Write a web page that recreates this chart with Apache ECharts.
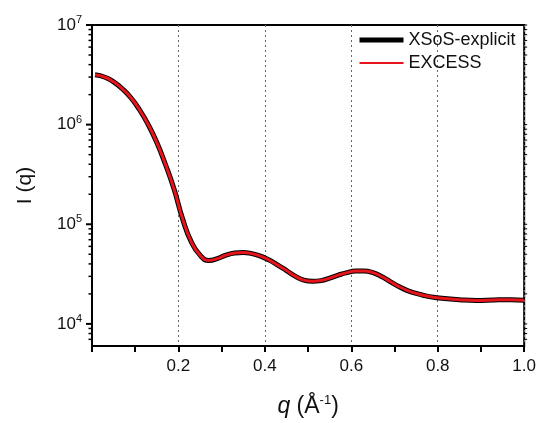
<!DOCTYPE html>
<html lang="en">

<head>
    <meta charset="UTF-8">
    <title>I(q) scattering profile</title>
    <script type="text/javascript" src="https://cdn.jsdelivr.net/npm/echarts@6/dist/echarts.min.js"></script>
</head>

<body style="margin:0;">
    <div id="main" style="width: 539px; height: 423px;"></div>

    <script type="text/javascript">
        // q values (1/A) and intensities
        var qValues = [0.007, 0.03, 0.05, 0.07, 0.09, 0.11, 0.13, 0.15, 0.17, 0.19, 0.21, 0.23, 0.25, 0.27,
            0.29, 0.31, 0.33, 0.35, 0.37, 0.39, 0.41, 0.43, 0.45, 0.47, 0.49, 0.51, 0.53, 0.55, 0.57, 0.59,
            0.61, 0.63, 0.65, 0.67, 0.69, 0.71, 0.73, 0.75, 0.77, 0.79, 0.81, 0.85, 0.89, 0.93, 0.97, 1.00];
        var intensity = [3.16e6, 2.99e6, 2.69e6, 2.29e6, 1.86e6, 1.41e6, 1.0e6, 6.61e5, 3.98e5, 2.24e5, 1.12e5,
            6.61e4, 4.90e4, 4.34e4, 4.52e4, 4.90e4, 5.15e4, 5.22e4, 5.07e4, 4.79e4, 4.37e4, 3.89e4, 3.43e4,
            3.02e4, 2.75e4, 2.68e4, 2.72e4, 2.88e4, 3.09e4, 3.27e4, 3.39e4, 3.40e4, 3.27e4, 2.99e4, 2.66e4,
            2.37e4, 2.16e4, 2.02e4, 1.92e4, 1.85e4, 1.81e4, 1.75e4, 1.72e4, 1.74e4, 1.75e4, 1.73e4];
        var seriesNames = ['XSoS-explicit', 'EXCESS'];
        var yMin = 6000, yMax = 1e7;
        var yMajorTicks = [1e4, 1e5, 1e6, 1e7];

        // minor log ticks 2..9 of each decade
        var yMinorTicks = [7000, 8000, 9000];
        [1e4, 1e5, 1e6].forEach(function(d) {
            for (var k = 2; k <= 9; k++) yMinorTicks.push(k * d);
        });

        var font = 'Liberation Sans, Arial, sans-serif';
        var points = qValues.map(function(q, i) { return [q, intensity[i]]; });

        // y tick marks: [q at axis, value, length (+ outward / - inward), width]
        var tickRows = [];
        yMajorTicks.forEach(function(v) { tickRows.push([0, v, 6, 2]); tickRows.push([1, v, -3, 1]); });
        yMinorTicks.forEach(function(v) { tickRows.push([0, v, 3.5, 1.5]); tickRows.push([1, v, -3, 1]); });

        var myChart = echarts.init(document.getElementById('main'));

        myChart.setOption({
            animation: false,
            backgroundColor: '#fff',
            grid: {
                left: 92, right: 12, top: 25, bottom: 69,
                show: true, borderColor: '#000', borderWidth: 2, backgroundColor: 'transparent'
            },
            legend: {
                orient: 'vertical',
                left: 352,
                top: 26,
                itemWidth: 44,
                itemHeight: 14,
                itemGap: 5,
                textStyle: { fontFamily: font, fontSize: 18, color: '#111' },
                data: [
                    { name: seriesNames[0], lineStyle: { width: 5, color: '#000' }, itemStyle: { opacity: 0 } },
                    { name: seriesNames[1], lineStyle: { width: 2, color: '#e8141b' }, itemStyle: { opacity: 0 } }
                ]
            },
            xAxis: {
                type: 'value',
                min: 0,
                max: 1,
                interval: 0.2,
                name: '{i|q} (Å{s|-1})',
                nameLocation: 'middle',
                nameGap: 48,
                nameTextStyle: {
                    fontFamily: font, fontSize: 23, color: '#111',
                    rich: {
                        i: { fontFamily: font, fontSize: 23, fontStyle: 'italic', color: '#111' },
                        s: { fontFamily: font, fontSize: 13, verticalAlign: 'top', color: '#111', padding: [0, 0, 12, 0] }
                    }
                },
                axisLine: { show: true, onZero: false, lineStyle: { color: '#000', width: 2 } },
                axisTick: { show: true, inside: false, length: 6, lineStyle: { color: '#000', width: 2 } },
                minorTick: { show: true, splitNumber: 2, length: 6, lineStyle: { color: '#000', width: 2 } },
                axisLabel: {
                    showMinLabel: false,
                    margin: 12,
                    fontFamily: font, fontSize: 17, color: '#111',
                    formatter: function(v) { return v.toFixed(1); }
                },
                splitLine: { show: true, lineStyle: { type: [2, 3], color: '#666', width: 1 } }
            },
            yAxis: {
                type: 'log',
                min: yMin,
                max: yMax,
                name: 'I (q)',
                nameLocation: 'middle',
                nameGap: 56,
                nameTextStyle: { fontFamily: font, fontSize: 21, color: '#111' },
                axisLine: { show: true, onZero: false, lineStyle: { color: '#000', width: 2 } },
                axisTick: { show: false },
                axisLabel: {
                    margin: 10,
                    formatter: function(v) {
                        var e = Math.log10(v);
                        if (Math.abs(e - Math.round(e)) > 1e-6) return '';
                        return '{b|10}{s|' + Math.round(e) + '}';
                    },
                    rich: {
                        b: { fontFamily: font, fontSize: 17, color: '#111' },
                        s: { fontFamily: font, fontSize: 11, color: '#111', verticalAlign: 'top', padding: [0, 0, 10, 0] }
                    }
                },
                splitLine: { show: false }
            },
            series: [{
                name: seriesNames[0],
                type: 'line',
                smooth: true,
                symbol: 'none',
                data: points,
                lineStyle: { color: '#000', width: 5 },
                itemStyle: { color: '#000' },
                z: 3
            }, {
                name: seriesNames[1],
                type: 'line',
                smooth: true,
                symbol: 'none',
                data: points,
                lineStyle: { color: '#e8141b', width: 3 },
                itemStyle: { color: '#e8141b' },
                z: 4
            }, {
                // y-axis tick marks placed through the axis scales
                type: 'custom',
                silent: true,
                clip: false,
                z: 5,
                encode: { x: 0, y: 1 },
                data: tickRows,
                renderItem: function(params, api) {
                    var p = api.coord([api.value(0), api.value(1)]);
                    var len = api.value(2);
                    return {
                        type: 'line',
                        shape: { x1: p[0] - len, y1: p[1], x2: p[0], y2: p[1] },
                        style: { stroke: '#000', lineWidth: api.value(3) }
                    };
                }
            }]
        });
    </script>

</body>

</html>
